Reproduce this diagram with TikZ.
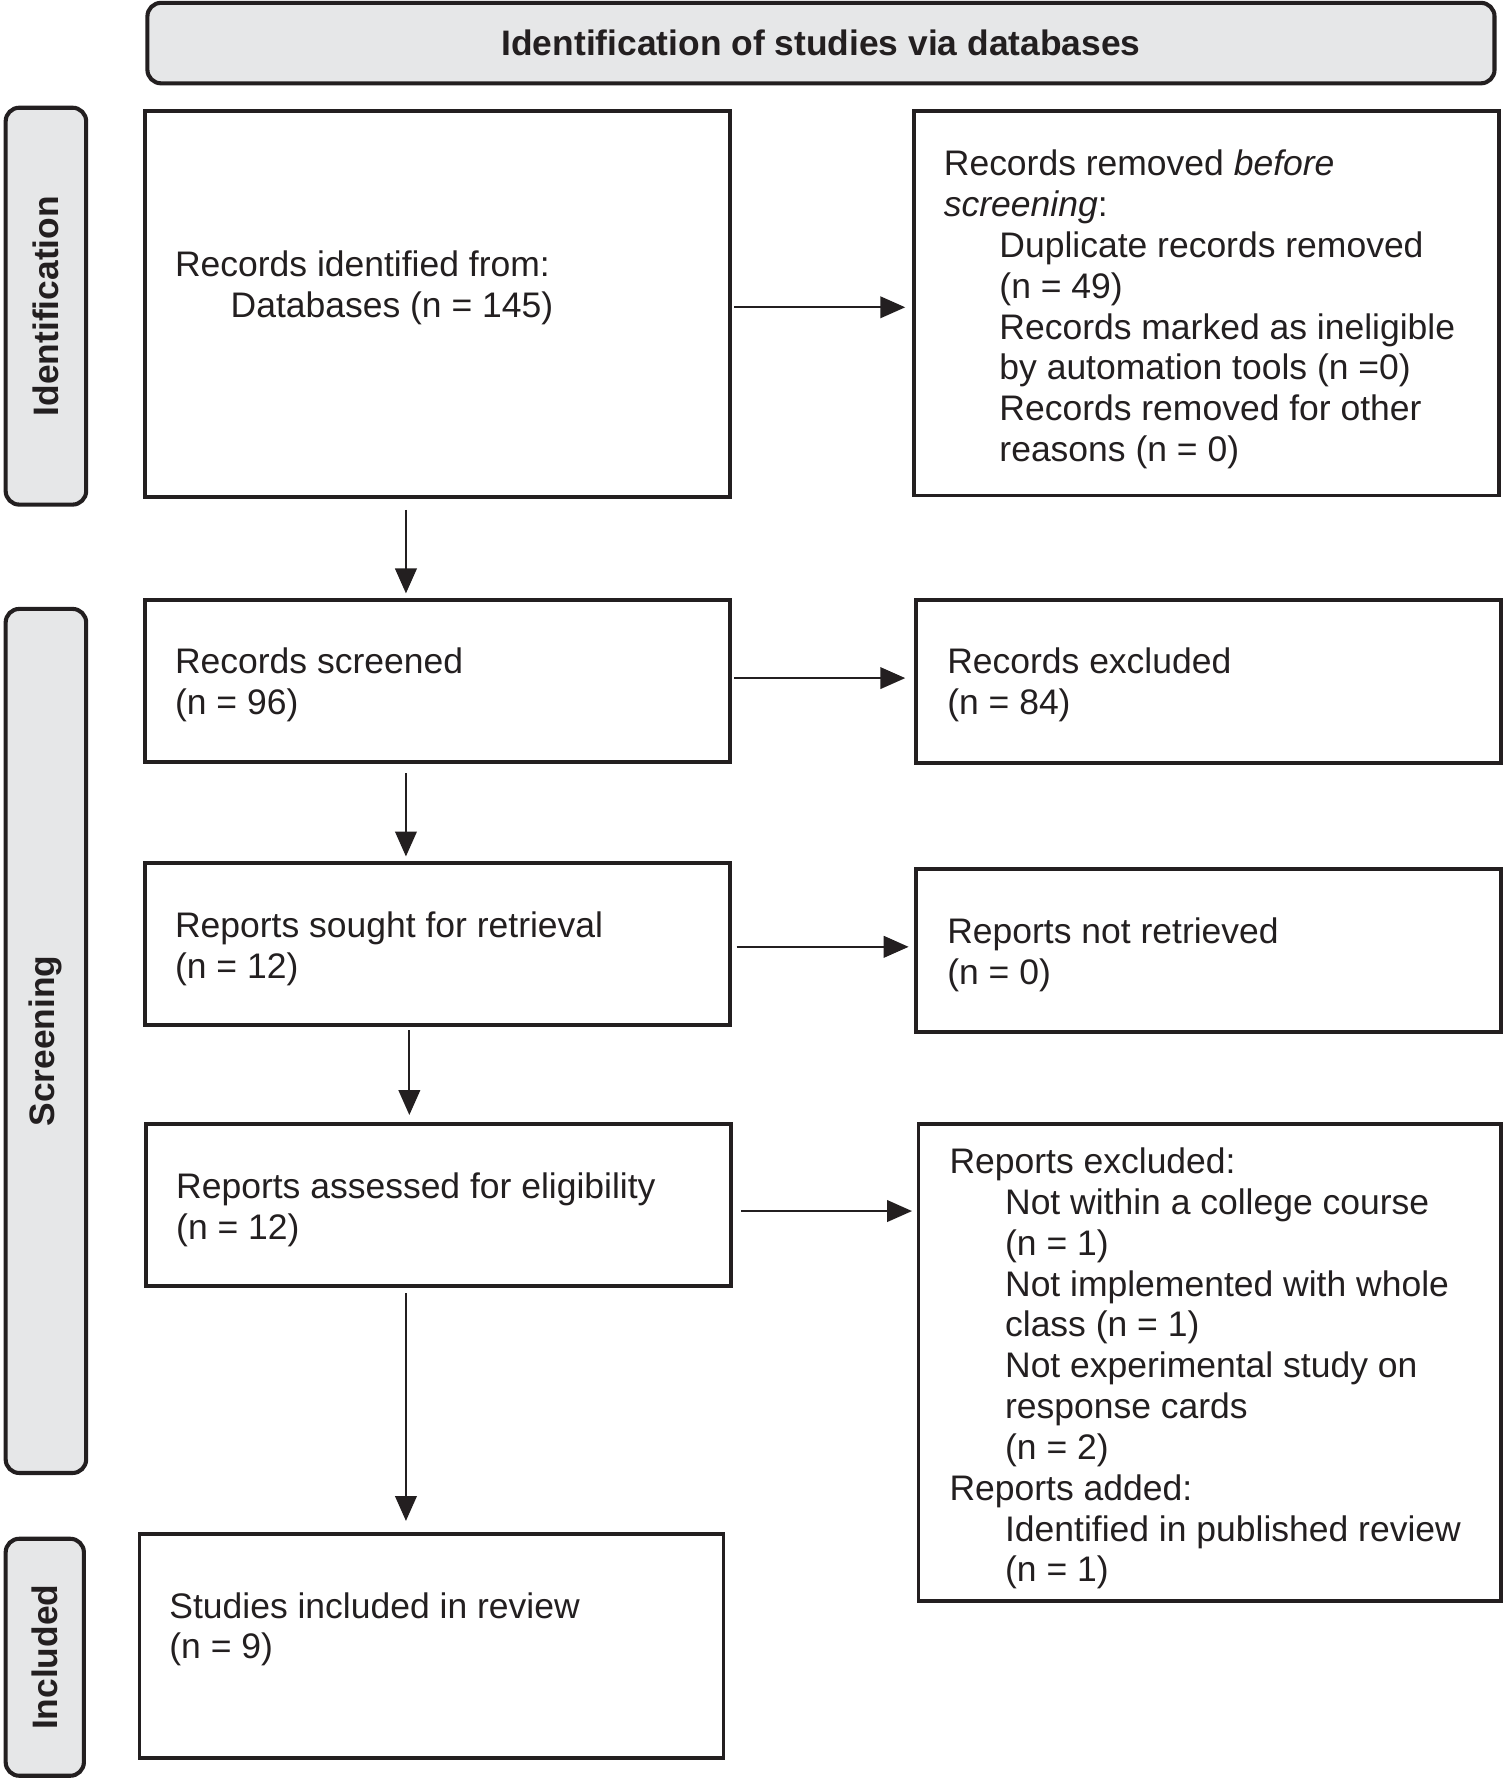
\documentclass[tikz,border=0pt]{standalone}
\usepackage{fontspec}
\setmainfont{Liberation Sans}
\usetikzlibrary{arrows.meta,calc}
\definecolor{ink}{HTML}{231F20}
\definecolor{panel}{HTML}{E6E7E8}
\newcommand\txtlines[1]{\vtop{\baselineskip=18pt\lineskiplimit=-20pt\lineskip=0pt #1}}
\newcommand\rowa[1]{\hbox{#1}}
\newcommand\rowb[1]{\hbox{\kern24.5pt #1}}
\begin{document}
\begin{tikzpicture}[x=0.5pt,y=-0.5pt,
  box/.style={draw=ink, line width=1.7pt, fill=white, inner sep=0pt},
  phase/.style={draw=ink, fill=panel, line width=1.8pt, rounded corners=6pt,
    font=\fontsize{15.6pt}{18pt}\selectfont\bfseries, text=ink, inner sep=0pt},
  txt/.style={anchor=base west, inner sep=0pt, text=ink, font=\fontsize{15.65pt}{18pt}\selectfont},
  arr/.style={draw=ink, line width=1pt, -{Triangle[length=11pt,width=9.5pt]}}]
\fill[white] (0,0) rectangle (1326,1568);
\useasboundingbox (0,0) rectangle (1326,1568);

% header and phase labels
\node[phase, minimum width=594pt, minimum height=35.5pt] (head) at (724,38) {Identification of studies via databases};
\node[phase, rotate=90, minimum width=175pt, minimum height=35.5pt] (pid) at (40.5,270) {Identification};
\node[phase, rotate=90, minimum width=381pt, minimum height=35.5pt] (psc) at (40.5,918) {Screening};
\node[phase, rotate=90, minimum width=104.5pt, minimum height=34.5pt] (pin) at (39.5,1461.5) {Included};

% boxes
\node[box, minimum width=258pt, minimum height=170pt] (b1) at (386,268) {};
\node[box, minimum width=258pt, minimum height=169.5pt] (b6) at (1064,267.5) {};
\node[box, minimum width=258pt, minimum height=71.5pt] (b2) at (386,600.5) {};
\node[box, minimum width=258pt, minimum height=72pt] (b7) at (1066,601) {};
\node[box, minimum width=258pt, minimum height=71.5pt] (b3) at (386,832.5) {};
\node[box, minimum width=258pt, minimum height=72pt] (b8) at (1066,838) {};
\node[box, minimum width=258pt, minimum height=71.5pt] (b4) at (387,1062.5) {};
\node[box, minimum width=257pt, minimum height=210.5pt] (b9) at (1067,1201.5) {};
\node[box, minimum width=257.5pt, minimum height=98.5pt] (b5) at (380.5,1451.5) {};

% texts
\node[txt] (t1) at (154,244) {\txtlines{\rowa{Records identified from:}\rowb{Databases (n = 145)}}};
\node[txt] (t6) at (832,155) {\txtlines{\rowa{Records removed \textit{before}}\rowa{\textit{screening}:}%
  \rowb{Duplicate records removed}\rowb{(n = 49)}\rowb{Records marked as ineligible}%
  \rowb{by automation tools (n =0)}\rowb{Records removed for other}\rowb{reasons (n = 0)}}};
\node[txt] (t2) at (154,594) {\txtlines{\rowa{Records screened}\rowa{(n = 96)}}};
\node[txt] (t7) at (835,594) {\txtlines{\rowa{Records excluded}\rowa{(n = 84)}}};
\node[txt] (t3) at (154,827) {\txtlines{\rowa{Reports sought for retrieval}\rowa{(n = 12)}}};
\node[txt] (t8) at (835,832) {\txtlines{\rowa{Reports not retrieved}\rowa{(n = 0)}}};
\node[txt] (t4) at (155,1057) {\txtlines{\rowa{Reports assessed for eligibility}\rowa{(n = 12)}}};
\node[txt] (t9) at (837,1035) {\txtlines{\rowa{Reports excluded:}\rowb{Not within a college course}%
  \rowb{(n = 1)}\rowb{Not implemented with whole}\rowb{class (n = 1)}\rowb{Not experimental study on}%
  \rowb{response cards}\rowb{(n = 2)}\rowa{Reports added:}\rowb{Identified in published review}\rowb{(n = 1)}}};
\node[txt] (t5) at (149,1427) {\txtlines{\rowa{Studies included in review}\rowa{(n = 9)}}};

% vertical arrows
\draw[arr, shorten >=2pt] ([xshift=-14pt,yshift=-5pt]b1.south) coordinate (s12) -- (s12 |- b2.north);
\draw[arr, shorten >=2pt] ([xshift=-14pt,yshift=-4pt]b2.south) coordinate (s23) -- (s23 |- b3.north);
\draw[arr, shorten >=3pt] ([xshift=-12.5pt,yshift=-1.5pt]b3.south) coordinate (s34) -- (s34 |- b4.north);
\draw[arr, shorten >=5pt] ([xshift=-14.5pt,yshift=-2.5pt]b4.south) coordinate (s45) -- (s45 |- b5.north);

% horizontal arrows
\draw[arr, shorten >=3pt] ([xshift=1pt,yshift=-1.5pt]b1.east) coordinate (s16) -- (s16 -| b6.west);
\draw[arr, shorten >=4pt] ([xshift=1pt,yshift=1.25pt]b2.east) coordinate (s27) -- (s27 -| b7.west);
\draw[arr, shorten >=2.5pt] ([xshift=2pt,yshift=-1.25pt]b3.east) coordinate (s38) -- (s38 -| b8.west);
\draw[arr, shorten >=2pt] ([xshift=3.5pt,yshift=-2.75pt]b4.east) coordinate (s49) -- (s49 -| b9.west);
\end{tikzpicture}
\end{document}
